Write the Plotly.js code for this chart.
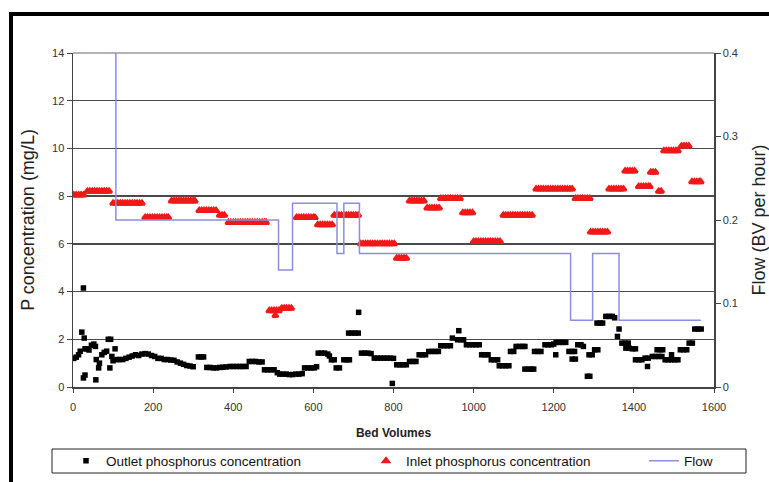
<!DOCTYPE html>
<html>
<head>
<meta charset="utf-8">
<script src="https://cdn.plot.ly/plotly-3.0.1.min.js"></script>
<style>
html,body{margin:0;padding:0;background:#fff;}
#chart{width:769px;height:482px;}
</style>
</head>
<body>
<div id="chart"></div>
<script>
// Outlet phosphorus concentration (mg/L) vs bed volumes
const outletX = [2,8,14,18,22,26,28,30,34,30,26,40,46,52,56,58,57,64,66,72,78,84,88,94,92,97,100,105,110,116,
  124,132,140,148,156,164,172,180,188,196,204,212,220,228,236,244,252,260,268,276,284,292,300,
  313,320,326,334,342,350,358,366,374,382,392,400,408,416,424,432,
  440,448,456,464,472,478,486,494,502,510,516,524,532,540,548,556,564,572,
  578,586,594,602,608,612,620,628,636,640,645,652,657,665,676,684,690,688,696,704,712,713,
  720,728,736,744,752,760,768,776,784,792,800,797,808,816,824,832,840,848,856,864,872,880,
  888,896,904,912,918,926,934,942,947,963,960,968,975,982,990,998,1006,1014,1020,1028,1036,
  1044,1052,1060,1064,1072,1080,1088,1092,1100,1106,1114,1122,1128,1128,1136,1144,1150,
  1152,1160,1168,1178,1186,1194,1200,1206,1214,1222,1230,1205,1238,1246,1252,1246,1254,
  1260,1268,1274,1288,1296,1302,1310,1284,1290,1308,1316,1322,1330,1338,1346,1352,1363,1359,
  1370,1378,1386,1380,1388,1396,1404,1404,1412,1420,1428,1436,1434,1446,1454,1462,1470,
  1458,1466,1472,1478,1486,1494,1502,1510,1494,1516,1524,1532,1538,1546,1552,1560,1568];
const outletY = [1.2,1.25,1.35,1.5,2.3,4.15,2.05,1.6,1.6,0.5,0.38,1.55,1.75,1.8,1.7,1.15,0.3,0.8,1.0,1.35,1.45,1.5,2.0,2.0,0.8,1.28,1.1,1.6,1.15,1.15,
  1.15,1.2,1.25,1.3,1.35,1.32,1.38,1.4,1.38,1.32,1.28,1.2,1.2,1.15,1.15,1.13,1.12,1.05,1.0,0.95,0.9,0.88,0.85,
  1.26,1.26,1.26,0.82,0.82,0.8,0.8,0.82,0.83,0.84,0.86,0.86,0.86,0.86,0.86,0.86,
  1.07,1.07,1.07,1.05,1.05,0.72,0.72,0.72,0.72,0.6,0.54,0.54,0.54,0.52,0.52,0.54,0.54,0.56,
  0.8,0.8,0.8,0.8,0.85,1.42,1.42,1.42,1.38,1.3,1.14,1.14,0.8,0.8,1.14,1.14,1.14,2.26,2.26,2.26,2.26,3.13,
  1.42,1.42,1.42,1.4,1.21,1.21,1.21,1.21,1.21,1.21,1.2,0.15,0.93,0.93,0.93,0.93,1.07,1.07,1.07,1.35,1.35,1.35,
  1.49,1.49,1.49,1.49,1.73,1.73,1.73,1.73,2.05,2.36,1.98,1.98,1.98,1.77,1.77,1.77,1.77,1.77,1.35,1.35,1.35,
  1.14,1.14,1.14,0.89,0.89,0.89,0.89,1.49,1.49,1.7,1.7,1.7,1.7,0.75,0.75,0.75,0.75,
  1.49,1.49,1.49,1.77,1.77,1.77,1.8,1.87,1.87,1.87,1.87,1.35,1.49,1.49,1.49,1.17,1.17,
  1.77,1.77,1.7,1.35,1.35,1.56,1.56,0.45,0.45,2.68,2.68,2.68,2.96,2.96,2.96,2.9,2.43,2.12,
  1.84,1.84,1.84,1.63,1.63,1.6,1.6,1.14,1.14,1.14,1.21,1.21,0.86,1.28,1.28,1.28,1.28,
  1.56,1.56,1.56,1.14,1.14,1.14,1.14,1.14,1.35,1.56,1.56,1.56,1.84,1.84,2.43,2.43,2.43];

// Inlet phosphorus concentration (mg/L) vs bed volumes
const inletX = [2,8,14,20,26,
  36,42,48,54,60,66,72,78,84,90,
  100,106,112,118,124,130,136,142,148,154,160,166,172,
  180,186,192,198,204,210,216,222,228,234,238,
  246,252,258,264,270,276,282,288,294,300,304,
  315,321,327,333,339,345,351,357,
  366,372,378,
  388,394,400,406,412,418,424,430,436,442,448,454,460,466,472,478,482,
  490,496,502,508,514,505,
  521,527,533,539,545,
  558,564,570,576,582,588,594,600,604,
  611,617,623,629,635,641,647,
  652,658,664,670,676,682,688,694,700,706,712,
  718,724,730,736,742,748,754,760,766,772,778,784,790,796,802,
  808,814,820,826,832,
  840,846,852,858,864,870,876,
  884,890,896,902,908,914,
  918,924,930,936,942,948,954,960,966,
  973,979,985,991,997,
  1000,1006,1012,1018,1024,1030,1036,1042,1048,1054,1060,1066,
  1074,1080,1086,1092,1098,1104,1110,1116,1122,1128,1134,1140,1146,
  1156,1162,1168,1174,1180,1186,1192,1198,1204,1210,1216,1222,1228,1234,1240,1246,
  1254,1260,1266,1272,1278,1284,1290,
  1292,1298,1304,1310,1316,1322,1328,1334,
  1338,1344,1350,1356,1362,1368,1374,
  1378,1384,1390,1396,1402,
  1412,1418,1424,1430,1436,1440,
  1442,1448,1454,
  1462,1468,
  1475,1481,1487,1493,1499,1505,1510,
  1519,1525,1531,1537,
  1545,1551,1557,1563,1567];
const inletY = [8.05,8.05,8.05,8.05,8.05,
  8.2,8.2,8.2,8.2,8.2,8.2,8.2,8.2,8.2,8.2,
  7.7,7.7,7.7,7.7,7.7,7.7,7.7,7.7,7.7,7.7,7.7,7.7,7.7,
  7.1,7.1,7.1,7.1,7.1,7.1,7.1,7.1,7.1,7.1,7.1,
  7.8,7.8,7.8,7.8,7.8,7.8,7.8,7.8,7.8,7.8,7.8,
  7.4,7.4,7.4,7.4,7.4,7.4,7.4,7.4,
  7.2,7.2,7.2,
  6.9,6.9,6.9,6.9,6.9,6.9,6.9,6.9,6.9,6.9,6.9,6.9,6.9,6.9,6.9,6.9,6.9,
  3.2,3.2,3.2,3.2,3.2,3.0,
  3.3,3.3,3.3,3.3,3.3,
  7.1,7.1,7.1,7.1,7.1,7.1,7.1,7.1,7.1,
  6.8,6.8,6.8,6.8,6.8,6.8,6.8,
  7.2,7.2,7.2,7.2,7.2,7.2,7.2,7.2,7.2,7.2,7.2,
  6.0,6.0,6.0,6.0,6.0,6.0,6.0,6.0,6.0,6.0,6.0,6.0,6.0,6.0,6.0,
  5.4,5.4,5.4,5.4,5.4,
  7.8,7.8,7.8,7.8,7.8,7.8,7.8,
  7.5,7.5,7.5,7.5,7.5,7.5,
  7.9,7.9,7.9,7.9,7.9,7.9,7.9,7.9,7.9,
  7.3,7.3,7.3,7.3,7.3,
  6.1,6.1,6.1,6.1,6.1,6.1,6.1,6.1,6.1,6.1,6.1,6.1,
  7.2,7.2,7.2,7.2,7.2,7.2,7.2,7.2,7.2,7.2,7.2,7.2,7.2,
  8.3,8.3,8.3,8.3,8.3,8.3,8.3,8.3,8.3,8.3,8.3,8.3,8.3,8.3,8.3,8.3,
  7.9,7.9,7.9,7.9,7.9,7.9,7.9,
  6.5,6.5,6.5,6.5,6.5,6.5,6.5,6.5,
  8.3,8.3,8.3,8.3,8.3,8.3,8.3,
  9.05,9.05,9.05,9.05,9.05,
  8.4,8.4,8.4,8.4,8.4,8.4,
  9.0,9.0,9.0,
  8.2,8.2,
  9.9,9.9,9.9,9.9,9.9,9.9,9.9,
  10.1,10.1,10.1,10.1,
  8.6,8.6,8.6,8.6,8.6];

// Flow (BV per hour), stepwise
const flowX = [107,107,513,548,659,676,715,1242,1297,1363,1567];
const flowY = [0.4,0.2,0.14,0.22,0.16,0.22,0.16,0.08,0.16,0.08,0.08];

const xTicks = [0,200,400,600,800,1000,1200,1400,1600];
const yTicks = [0,2,4,6,8,10,12,14];
const y2Ticks = [0,0.1,0.2,0.3,0.4];

const FONT = 'Liberation Sans, Arial, sans-serif';
const W = 769, H = 482;

const traces = [
  {x: outletX, y: outletY, type: 'scatter', mode: 'markers', name: 'Outlet phosphorus concentration',
   marker: {symbol: 'square', size: 5.5, color: '#000000'}, legend: 'legend'},
  {x: inletX, y: inletY, type: 'scatter', mode: 'markers', name: 'Inlet phosphorus concentration',
   marker: {symbol: 'triangle-up', size: 5, color: '#f01818', line: {width: 2.5, color: '#f01818'}}, legend: 'legend2'},
  {x: flowX, y: flowY, type: 'scatter', mode: 'lines', name: 'Flow', yaxis: 'y2',
   line: {shape: 'hv', color: '#8c8fdc', width: 1.5}, legend: 'legend3'}
];

function px2x(p){ return (p - 73) / 641; }
function py2y(p){ return (387 - p) / 334; }

const legendCommon = {orientation: 'h', bgcolor: 'rgba(0,0,0,0)', borderwidth: 0,
  font: {family: FONT, size: 13.5, color: '#111'}, xref: 'container', yref: 'container',
  yanchor: 'middle', y: (H - 461) / H, xanchor: 'left'};

const layout = {
  width: W, height: H,
  margin: {l: 73, r: 55, t: 53, b: 95},
  paper_bgcolor: '#ffffff', plot_bgcolor: '#ffffff',
  font: {family: FONT, size: 11, color: '#222'},
  showlegend: true,
  legend: Object.assign({}, legendCommon, {x: 66 / W}),
  legend2: Object.assign({}, legendCommon, {x: 366 / W}),
  legend3: Object.assign({}, legendCommon, {x: 644 / W}),
  xaxis: {range: [0, 1600], tickvals: xTicks, ticks: 'outside', ticklen: 4, tickcolor: '#444',
    ticklabelstandoff: 5,
    showline: true, linecolor: '#444', linewidth: 1.5, showgrid: false, zeroline: false,
    tickfont: {family: FONT, size: 11, color: '#333'},
    title: {text: 'Bed Volumes', font: {family: FONT, size: 12, color: '#222', weight: 'bold'}, standoff: 17}},
  yaxis: {range: [0, 14], tickvals: yTicks, ticks: 'outside', ticklen: 5, tickcolor: '#444',
    showline: true, linecolor: '#444', linewidth: 1.5, showgrid: true, gridcolor: '#4a4a4a', gridwidth: 1.5,
    zeroline: false, tickfont: {family: FONT, size: 11, color: '#333'},
    title: {text: 'P concentration (mg/L)', font: {family: FONT, size: 18, color: '#222'}, standoff: 12}},
  yaxis2: {range: [0, 0.4], tickvals: y2Ticks, overlaying: 'y', side: 'right', ticks: 'outside', ticklen: 5,
    tickcolor: '#444', showline: true, linecolor: '#444', linewidth: 1.5, showgrid: false, zeroline: false,
    tickfont: {family: FONT, size: 11, color: '#333'},
    title: {text: 'Flow (BV per hour)', font: {family: FONT, size: 18, color: '#222'}, standoff: 16}},
  shapes: [
    {type: 'line', xref: 'paper', yref: 'paper', x0: 0, x1: 1, y0: 1, y1: 1, line: {color: '#9a9a9a', width: 1.5}},
    {type: 'line', xref: 'paper', yref: 'paper', x0: px2x(9), x1: px2x(775), y0: py2y(14), y1: py2y(14), line: {color: '#000', width: 4}},
    {type: 'line', xref: 'paper', yref: 'paper', x0: px2x(11), x1: px2x(11), y0: py2y(12), y1: py2y(490), line: {color: '#000', width: 4}},
    {type: 'rect', xref: 'paper', yref: 'paper', x0: px2x(52), x1: px2x(746), y0: py2y(449), y1: py2y(473), line: {color: '#222', width: 1}}
  ]
};

Plotly.newPlot('chart', traces, layout, {displayModeBar: false, staticPlot: true});
</script>
</body>
</html>
